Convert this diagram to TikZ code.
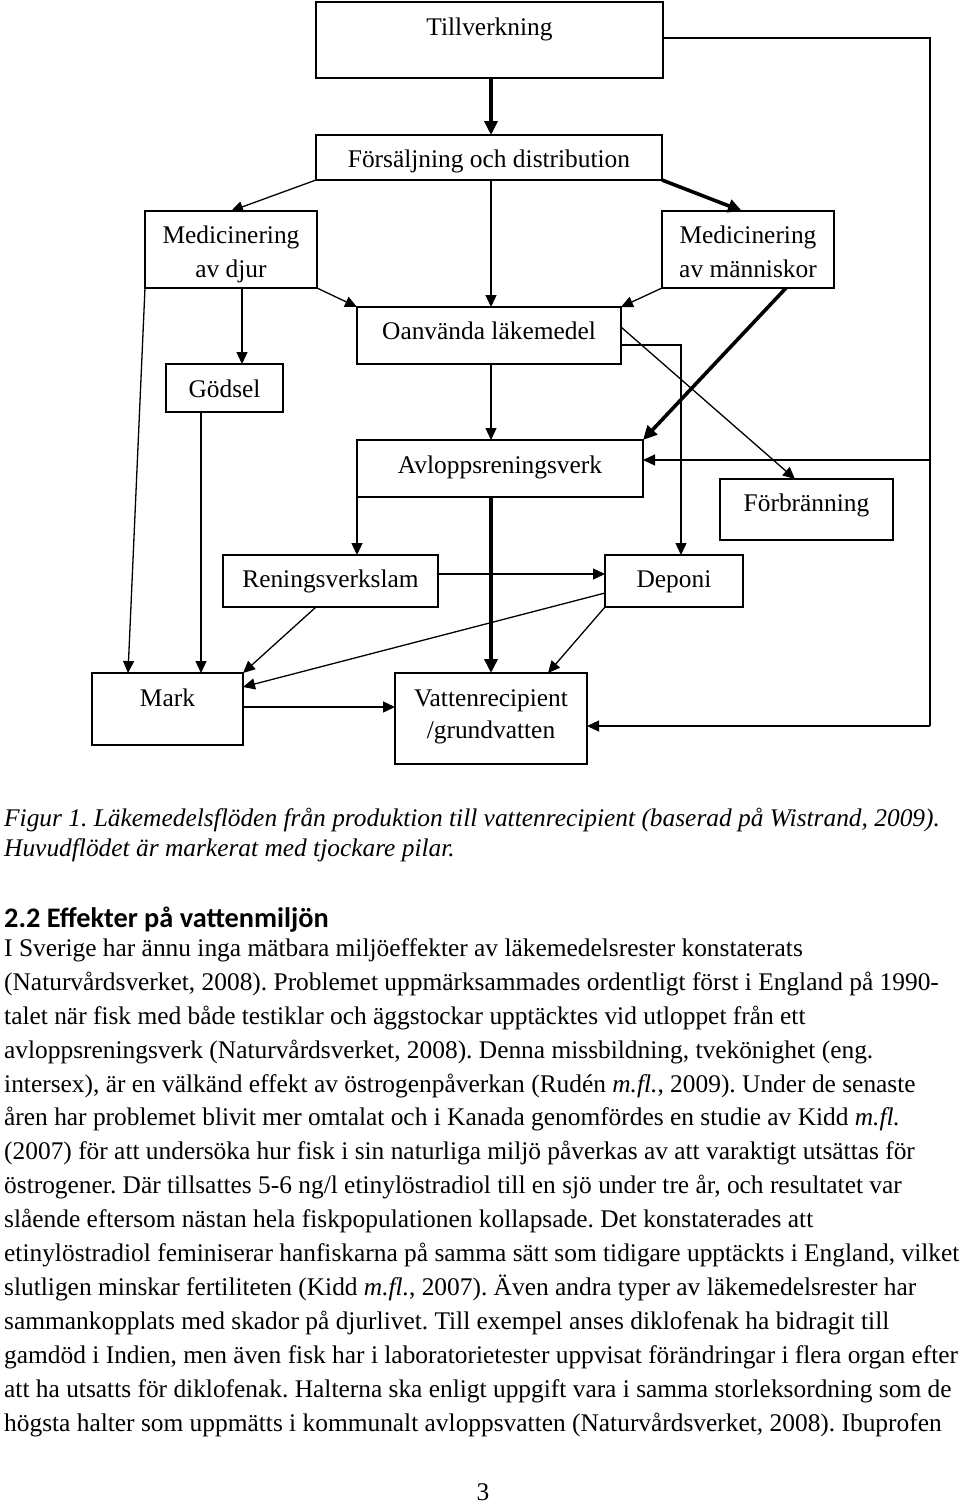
\documentclass[tikz,border=0pt]{standalone}
\usepackage{fontspec}
\setmainfont{Liberation Serif}
\newfontfamily\headfont{Carlito}
\usetikzlibrary{arrows.meta}
\begin{document}
\frenchspacing
\begin{tikzpicture}[x=1pt,y=-1pt,
  box/.style={draw, line width=1.3pt, inner sep=0pt, outer sep=0pt},
  lbl/.style={anchor=base, inner sep=0pt, font=\fontsize{25.4}{30}\selectfont},
  thinarr/.style={line width=1.3pt, -{Triangle[length=12pt,width=11pt]}},
  thinline/.style={line width=1.3pt},
  mainarr/.style={line width=3.6pt, -{Triangle[length=14pt,width=13pt]}},
  txt/.style={anchor=base west, inner sep=0pt, font=\fontsize{25.4}{30}\selectfont},
  captxt/.style={anchor=base west, inner sep=0pt, font=\fontsize{25.4}{30}\selectfont\itshape},
  headtxt/.style={anchor=base west, inner sep=0pt, font=\fontsize{28.3}{30}\selectfont\headfont\bfseries}
]
\useasboundingbox (0,0) rectangle (960,1505);
\fill[white] (0,0) rectangle (960,1505);

% boxes
\node[box, minimum width=347pt, minimum height=76pt] (till) at (489.5,40) {};
\node[box, minimum width=346pt, minimum height=45pt] (fors) at (489,157.5) {};
\node[box, minimum width=172pt, minimum height=77pt] (mdjur) at (231,249.5) {};
\node[box, minimum width=172pt, minimum height=77pt] (mman) at (748,249.5) {};
\node[box, minimum width=264pt, minimum height=57pt] (oanv) at (489,335.5) {};
\node[box, minimum width=117pt, minimum height=48pt] (godsel) at (224.5,388) {};
\node[box, minimum width=286pt, minimum height=57pt] (avl) at (500,468.5) {};
\node[box, minimum width=173pt, minimum height=61pt] (forbr) at (806.5,509.5) {};
\node[box, minimum width=215pt, minimum height=52pt] (renslam) at (330.5,581) {};
\node[box, minimum width=138pt, minimum height=52pt] (deponi) at (674,581) {};
\node[box, minimum width=151pt, minimum height=72pt] (mark) at (167.5,709) {};
\node[box, minimum width=192pt, minimum height=91pt] (vatten) at (491,718.5) {};

% box texts
\node[lbl] (tillT) at (489.5,35) {Tillverkning};
\node[lbl] (forsT) at (489,167) {Försäljning och distribution};
\node[lbl] (mdjurTa) at (231,243) {Medicinering};
\node[lbl] (mdjurTb) at (231,277) {av djur};
\node[lbl] (mmanTa) at (748,243) {Medicinering};
\node[lbl] (mmanTb) at (748,277) {av människor};
\node[lbl] (oanvT) at (489,339) {Oanvända läkemedel};
\node[lbl] (godselT) at (224.5,397) {Gödsel};
\node[lbl] (avlT) at (500,473) {Avloppsreningsverk};
\node[lbl] (forbrT) at (806.5,511) {Förbränning};
\node[lbl] (renslamT) at (330.5,587) {Reningsverkslam};
\node[lbl] (deponiT) at (674,587) {Deponi};
\node[lbl] (markT) at (167.5,706) {Mark};
\node[lbl] (vattenTa) at (491,706) {Vattenrecipient};
\node[lbl] (vattenTb) at (491,738) {/grundvatten};

% helper coordinates (columns and rows)
\coordinate (X491) at (491,0);
\coordinate (X128) at (128,0);
\coordinate (X242) at (242,0);
\coordinate (X201) at (201,0);
\coordinate (X681) at (681,0);
\coordinate (X795) at (795,0);
\coordinate (X786) at (786,0);
\coordinate (X742) at (742,0);
\coordinate (X316) at (316,0);
\coordinate (X548) at (548,0);
\coordinate (Y38) at (0,38);
\coordinate (Y327) at (0,327);
\coordinate (Y345) at (0,345);
\coordinate (Y574) at (0,574);
\coordinate (Y593) at (0,593);
\coordinate (Y687) at (0,687);
\coordinate (Y707) at (0,707);
\coordinate (J1) at (930,460);
\coordinate (J2) at (930,726);

% thick (main) flows
\draw[mainarr] (till.south -| X491) -- (fors.north -| X491);
\draw[mainarr] (fors.south east) -- (mman.north -| X742);
\draw[mainarr] (mman.south -| X786) -- (avl.north east);
\draw[mainarr] (avl.south -| X491) -- (vatten.north -| X491);

% thin flows
\draw[thinarr] (fors.south west) -- (mdjur.north);
\draw[thinarr] (fors.south -| X491) -- (oanv.north -| X491);
\draw[thinarr] (mdjur.south east) -- (oanv.north west);
\draw[thinarr] (mman.south west) -- (oanv.north east);
\draw[thinarr] (mdjur.south west) -- (mark.north -| X128);
\draw[thinarr] (mdjur.south -| X242) -- (godsel.north -| X242);
\draw[thinarr] (godsel.south -| X201) -- (mark.north -| X201);
\draw[thinarr] (oanv.south -| X491) -- (avl.north -| X491);
\draw[thinarr] (oanv.east |- Y345) -| (deponi.north -| X681);
\draw[thinarr] (oanv.east |- Y327) -- (forbr.north -| X795);
\draw[thinline] (till.east |- Y38) -| (J2);
\draw[thinarr] (J1) -- (avl.east |- J1);
\draw[thinarr] (J2) -- (vatten.east |- J2);
\draw[thinarr] (avl.south west) -- (renslam.north -| avl.south west);
\draw[thinarr] (renslam.east |- Y574) -- (deponi.west |- Y574);
\draw[thinarr] (renslam.south -| X316) -- (mark.north east);
\draw[thinarr] (deponi.west |- Y593) -- (mark.east |- Y687);
\draw[thinarr] (deponi.south west) -- (vatten.north -| X548);
\draw[thinarr] (mark.east |- Y707) -- (vatten.west |- Y707);

% caption
\node[captxt] (cap1) at (4,826) {Figur 1. Läkemedelsflöden från produktion till vattenrecipient (baserad på Wistrand, 2009).};
\node[captxt] (cap2) at (4,856) {Huvudflödet är markerat med tjockare pilar.};

% heading
\node[headtxt] (head) at (4,927) {2.2 Effekter på vattenmiljön};

% body text
\node[txt] (l0) at (4,956) {I Sverige har ännu inga mätbara miljöeffekter av läkemedelsrester konstaterats};
\node[txt] (l1) at (4,990) {(Naturvårdsverket, 2008). Problemet uppmärksammades ordentligt först i England på 1990-};
\node[txt] (l2) at (4,1024) {talet när fisk med både testiklar och äggstockar upptäcktes vid utloppet från ett};
\node[txt] (l3) at (4,1058) {avloppsreningsverk (Naturvårdsverket, 2008). Denna missbildning, tvekönighet (eng.};
\node[txt] (l4) at (4,1092) {intersex), är en välkänd effekt av östrogenpåverkan (Rudén \textit{m.fl.}, 2009). Under de senaste};
\node[txt] (l5) at (4,1125) {åren har problemet blivit mer omtalat och i Kanada genomfördes en studie av Kidd \textit{m.fl.}};
\node[txt] (l6) at (4,1159) {(2007) för att undersöka hur fisk i sin naturliga miljö påverkas av att varaktigt utsättas för};
\node[txt] (l7) at (4,1193) {östrogener. Där tillsattes 5-6 ng/l etinylöstradiol till en sjö under tre år, och resultatet var};
\node[txt] (l8) at (4,1227) {slående eftersom nästan hela fiskpopulationen kollapsade. Det konstaterades att};
\node[txt] (l9) at (4,1261) {etinylöstradiol feminiserar hanfiskarna på samma sätt som tidigare upptäckts i England, vilket};
\node[txt] (l10) at (4,1295) {slutligen minskar fertiliteten (Kidd \textit{m.fl.}, 2007). Även andra typer av läkemedelsrester har};
\node[txt] (l11) at (4,1329) {sammankopplats med skador på djurlivet. Till exempel anses diklofenak ha bidragit till};
\node[txt] (l12) at (4,1363) {gamdöd i Indien, men även fisk har i laboratorietester uppvisat förändringar i flera organ efter};
\node[txt] (l13) at (4,1397) {att ha utsatts för diklofenak. Halterna ska enligt uppgift vara i samma storleksordning som de};
\node[txt] (l14) at (4,1431) {högsta halter som uppmätts i kommunalt avloppsvatten (Naturvårdsverket, 2008). Ibuprofen};

% page number
\node[lbl] (pnum) at (483,1500) {3};
\end{tikzpicture}
\end{document}
